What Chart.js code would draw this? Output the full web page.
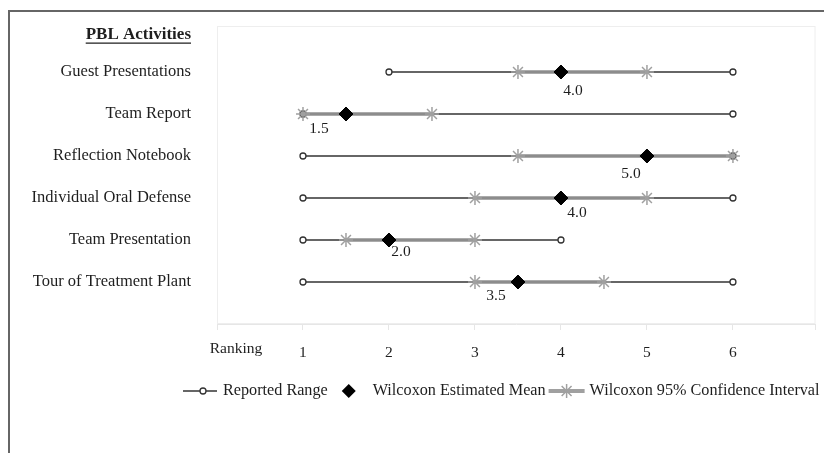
<!DOCTYPE html>
<html>
<head>
<meta charset="utf-8">
<script src="https://cdn.jsdelivr.net/npm/chart.js@4.4.1/dist/chart.umd.min.js"></script>
<style>
  html, body { margin: 0; padding: 0; background: #fff; }
  #wrap { width: 824px; height: 453px; position: relative; }
</style>
</head>
<body>
<div id="wrap"><canvas id="c" width="824" height="453"></canvas></div>
<script>
// Ranking results per PBL activity (row order top to bottom)
const activities = ['Guest Presentations', 'Team Report', 'Reflection Notebook',
  'Individual Oral Defense', 'Team Presentation', 'Tour of Treatment Plant'];
const rangeLow = [2, 1, 1, 1, 1, 1];
const rangeHigh = [6, 6, 6, 6, 4, 6];
const estimatedMean = [4.0, 1.5, 5.0, 4.0, 2.0, 3.5];
const ciLow = [3.5, 1, 3.5, 3, 1.5, 3];
const ciHigh = [5, 2.5, 6, 5, 3, 4.5];
const rankTicks = [1, 2, 3, 4, 5, 6];
const headerLabel = 'PBL Activities';
const axisTitle = 'Ranking';
const seriesNames = ['Reported Range', 'Wilcoxon Estimated Mean', 'Wilcoxon 95% Confidence Interval'];

// label placement next to each mean marker (pixels)
const meanLabelShift = [[12, 19], [-27, 15], [-16, 18], [16, 15], [12, 12], [-22, 14]];

const SERIF = '"Liberation Serif", "Times New Roman", serif';
const TEXT = '#1e1e1e';
const RANGE_COLOR = '#333333';
const CI_BAND = 'rgba(150,150,150,0.8)';
const CI_COLOR = '#a0a0a0';

const rowY = i => activities.length - i;   // top row sits highest
const HEADER_Y = activities.length + 0.9;
const Y_MAX = activities.length + 1;
const X_MIN = 0, X_MAX = 6.96;

const datasets = [];
activities.forEach((name, i) => {
  datasets.push({
    type: 'line', label: seriesNames[0], order: 2,
    data: [{ x: rangeLow[i], y: rowY(i) }, { x: rangeHigh[i], y: rowY(i) }],
    borderColor: RANGE_COLOR, borderWidth: 1.5,
    pointStyle: 'circle', pointRadius: 3, pointBorderWidth: 1.3,
    pointBackgroundColor: '#fff', pointBorderColor: RANGE_COLOR
  });
  // translucent band lets the range line show through faintly
  datasets.push({
    type: 'line', label: seriesNames[2], order: 1,
    data: [{ x: ciLow[i], y: rowY(i) }, { x: ciHigh[i], y: rowY(i) }],
    borderColor: CI_BAND, borderWidth: 4,
    pointStyle: 'star', pointRadius: 7, pointBorderWidth: 1.5,
    pointBackgroundColor: CI_COLOR, pointBorderColor: CI_COLOR
  });
  datasets.push({
    type: 'scatter', label: seriesNames[1], order: 0,
    data: [{ x: estimatedMean[i], y: rowY(i) }],
    pointStyle: 'rectRot', pointRadius: 7,
    backgroundColor: '#000', borderColor: '#000', pointBorderWidth: 1
  });
});

function drawMarker(ctx, style, x, y) {
  ctx.save();
  if (style === 'circle') {
    ctx.beginPath(); ctx.arc(x, y, 3, 0, Math.PI * 2);
    ctx.fillStyle = '#fff'; ctx.fill();
    ctx.lineWidth = 1.3; ctx.strokeStyle = RANGE_COLOR; ctx.stroke();
  } else if (style === 'diamond') {
    const r = 7;
    ctx.beginPath(); ctx.moveTo(x, y - r); ctx.lineTo(x + r, y); ctx.lineTo(x, y + r); ctx.lineTo(x - r, y); ctx.closePath();
    ctx.fillStyle = '#000'; ctx.fill();
  } else if (style === 'star') {
    const r = 7, d = r * Math.SQRT1_2;
    ctx.beginPath();
    ctx.moveTo(x - r, y); ctx.lineTo(x + r, y);
    ctx.moveTo(x, y - r); ctx.lineTo(x, y + r);
    ctx.moveTo(x - d, y - d); ctx.lineTo(x + d, y + d);
    ctx.moveTo(x - d, y + d); ctx.lineTo(x + d, y - d);
    ctx.lineWidth = 1.5; ctx.strokeStyle = CI_COLOR; ctx.stroke();
  }
  ctx.restore();
}

const decorations = {
  id: 'decorations',
  beforeDraw(chart) {
    const { ctx, chartArea: a } = chart;
    ctx.save();
    // outer frame
    ctx.strokeStyle = '#666'; ctx.lineWidth = 2;
    ctx.beginPath(); ctx.moveTo(9, 453); ctx.lineTo(9, 11); ctx.lineTo(824, 11); ctx.stroke();
    // faint plot panel
    ctx.strokeStyle = '#eeeeee'; ctx.lineWidth = 1;
    ctx.strokeRect(a.left + 0.5, a.top - 3.5, a.right - a.left - 1, a.bottom - a.top + 3);
    ctx.restore();
  },
  afterDatasetsDraw(chart) {
    const { ctx } = chart;
    const xs = chart.scales.x, ys = chart.scales.y;
    ctx.save();
    ctx.font = '15.5px ' + SERIF; ctx.fillStyle = TEXT;
    ctx.textAlign = 'center'; ctx.textBaseline = 'middle';
    estimatedMean.forEach((m, i) => {
      const px = xs.getPixelForValue(m), py = ys.getPixelForValue(rowY(i));
      const s = meanLabelShift[i];
      ctx.fillText(m.toFixed(1), px + s[0], py + s[1]);
    });
    ctx.restore();
  },
  afterDraw(chart) {
    const { ctx, chartArea: a } = chart;
    const ys = chart.scales.y;
    ctx.save();
    // underline under the row header
    ctx.font = 'bold 17px ' + SERIF;
    const hw = ctx.measureText(headerLabel).width;
    const hy = ys.getPixelForValue(HEADER_Y);
    const hr = a.left - 26;
    ctx.strokeStyle = TEXT; ctx.lineWidth = 1.2;
    ctx.beginPath(); ctx.moveTo(hr - hw, hy + 9); ctx.lineTo(hr, hy + 9); ctx.stroke();

    // axis caption
    ctx.font = '15.5px ' + SERIF; ctx.fillStyle = TEXT;
    ctx.textAlign = 'center'; ctx.textBaseline = 'middle';
    ctx.fillText(axisTitle, 236, 349);

    // legend
    const ly = 391;
    ctx.font = '16.2px ' + SERIF; ctx.textAlign = 'left';
    let x = 183;
    ctx.strokeStyle = RANGE_COLOR; ctx.lineWidth = 1.4;
    ctx.beginPath(); ctx.moveTo(x, ly); ctx.lineTo(x + 34, ly); ctx.stroke();
    drawMarker(ctx, 'circle', x + 20, ly);
    x += 40;
    ctx.fillStyle = TEXT; ctx.fillText(seriesNames[0], x, ly);
    x += ctx.measureText(seriesNames[0]).width + 21;
    drawMarker(ctx, 'diamond', x, ly);
    x += 24;
    ctx.fillStyle = TEXT; ctx.fillText(seriesNames[1], x, ly);
    x += ctx.measureText(seriesNames[1]).width + 3;
    ctx.strokeStyle = CI_COLOR; ctx.lineWidth = 4;
    ctx.beginPath(); ctx.moveTo(x, ly); ctx.lineTo(x + 36, ly); ctx.stroke();
    drawMarker(ctx, 'star', x + 18, ly);
    x += 41;
    ctx.fillStyle = TEXT; ctx.fillText(seriesNames[2], x, ly);
    ctx.restore();
  }
};

// scales reserve no extra room for overhanging edge labels
function clearScalePadding(scale) {
  scale.paddingLeft = 0; scale.paddingRight = 0;
  scale.paddingTop = 0; scale.paddingBottom = 0;
}

new Chart(document.getElementById('c'), {
  data: { datasets },
  options: {
    responsive: false,
    animation: false,
    layout: { padding: { top: 30, right: 0, left: 0, bottom: 0 } },
    plugins: { legend: { display: false }, tooltip: { enabled: false } },
    scales: {
      x: {
        type: 'linear', min: X_MIN, max: X_MAX,
        afterFit(scale) { scale.height = 129; clearScalePadding(scale); },
        afterBuildTicks(scale) {
          scale.ticks = [X_MIN, ...rankTicks, X_MAX].map(v => ({ value: v }));
        },
        ticks: {
          autoSkip: false, padding: 14, color: TEXT,
          font: { family: SERIF, size: 15.5 },
          callback: v => rankTicks.includes(v) ? String(v) : ''
        },
        grid: { drawOnChartArea: false, drawTicks: true, tickLength: 6, color: '#e6e6e6' },
        border: { color: '#e6e6e6' }
      },
      y: {
        type: 'linear', min: 0, max: Y_MAX,
        afterFit(scale) { scale.width = 217; clearScalePadding(scale); },
        afterBuildTicks(scale) {
          scale.ticks = [HEADER_Y, ...activities.map((_, i) => rowY(i))].map(v => ({ value: v }));
        },
        ticks: {
          autoSkip: false, padding: 26, color: TEXT,
          font: ctx => (ctx.tick && ctx.tick.value === HEADER_Y)
            ? { family: SERIF, size: 17, weight: 'bold' }
            : { family: SERIF, size: 16.5 },
          callback: v => v === HEADER_Y ? headerLabel : activities[activities.length - v]
        },
        grid: { display: false, drawTicks: false },
        border: { display: false }
      }
    }
  },
  plugins: [decorations]
});
</script>
</body>
</html>
